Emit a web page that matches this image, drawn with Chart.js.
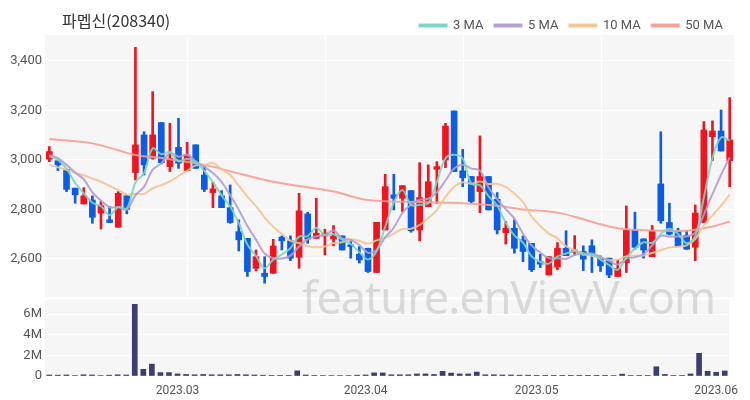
<!DOCTYPE html>
<html>
<head>
<meta charset="utf-8">
<script src="https://cdn.jsdelivr.net/npm/chart.js@4.4.0/dist/chart.umd.min.js"></script>
<style>
  body { margin: 0; background: #fff; width: 750px; height: 400px; overflow: hidden; position: relative; font-family: Roboto, "Noto Sans CJK KR", sans-serif; }
  #title { position: absolute; left: 62px; top: 8px; font-size: 16px; color: #333; font-family: "Noto Sans CJK KR", sans-serif; z-index: 2; }
  #priceBox { position: absolute; left: 0; top: 0; width: 750px; height: 298px; }
  #volBox { position: absolute; left: 0; top: 298px; width: 750px; height: 102px; }
  #mark { position: absolute; left: 302px; top: 274px; font-size: 45px; line-height: 1; letter-spacing: -1px; color: rgba(180,180,180,0.45); font-family: "Noto Sans", sans-serif; pointer-events: none; z-index: 3; white-space: nowrap; }
</style>
</head>
<body>
<div id="title">파멥신(208340)</div>
<div id="priceBox"><canvas id="price"></canvas></div>
<div id="volBox"><canvas id="vol"></canvas></div>
<div id="mark">feature.enVievV.com</div>

<script>
/* ===== DATA ===== */
// trading days per month (x categories)
const tradingDays = {
    '2023.02': [8, 9, 10, 13, 14, 15, 16, 17, 20, 21, 22, 23, 24, 27, 28],
    '2023.03': [2, 3, 6, 7, 8, 9, 10, 13, 14, 15, 16, 17, 20, 21, 22, 23, 24, 27, 28, 29, 30, 31],
    '2023.04': [3, 4, 5, 6, 7, 10, 11, 12, 13, 14, 17, 18, 19, 20, 21, 24, 25, 26, 27, 28],
    '2023.05': [2, 3, 4, 8, 9, 10, 11, 12, 15, 16, 17, 18, 19, 22, 23, 24, 25, 26, 29, 30, 31],
    '2023.06': [1, 2]
};
const monthTicks = ['2023.03', '2023.04', '2023.05', '2023.06'];

const open = [3003, 2997, 2962, 2886, 2822, 2838, 2785, 2758, 2728, 2855,
    2949, 3101, 3007, 3151, 2973, 3051, 2957, 3061, 2939, 2868,
    2855, 2807, 2710, 2683, 2562, 2542, 2542, 2688, 2673, 2607,
    2782, 2683, 2693, 2680, 2693, 2657, 2619, 2643, 2545, 2717,
    2859, 2845, 2876, 2717, 2811, 2962, 3000, 3198, 2956, 2933,
    2872, 2933, 2841, 2706, 2724, 2677, 2663, 2589, 2535, 2567,
    2643, 2626, 2630, 2653, 2603, 2603, 2529, 2585, 2717, 2681,
    2609, 2903, 2747, 2710, 2694, 2647, 2747, 3094, 3117, 2997];
const high = [3054, 2997, 2962, 2886, 2888, 2855, 2832, 2811, 2872, 2858,
    3455, 3114, 3276, 3151, 3148, 3168, 3071, 3061, 2976, 2910,
    2876, 2899, 2758, 2683, 2636, 2609, 2679, 2693, 2693, 2865,
    2789, 2845, 2720, 2735, 2693, 2670, 2650, 2643, 2748, 2942,
    2942, 2896, 2876, 2989, 2980, 2993, 3148, 3198, 3043, 2933,
    3097, 2933, 2868, 2751, 2758, 2693, 2663, 2619, 2609, 2666,
    2714, 2694, 2653, 2677, 2612, 2603, 2596, 2814, 2789, 2681,
    2735, 3114, 2825, 2724, 2714, 2818, 3155, 3158, 3202, 3252];
const low = [2993, 2957, 2872, 2825, 2822, 2744, 2721, 2747, 2728, 2782,
    2919, 2939, 3003, 2984, 2953, 2966, 2957, 2966, 2872, 2807,
    2807, 2744, 2632, 2529, 2552, 2502, 2542, 2636, 2593, 2562,
    2663, 2683, 2616, 2653, 2636, 2603, 2583, 2545, 2545, 2717,
    2798, 2791, 2708, 2673, 2811, 2825, 2969, 2953, 2892, 2825,
    2787, 2798, 2701, 2660, 2623, 2589, 2549, 2565, 2535, 2556,
    2613, 2616, 2553, 2545, 2549, 2524, 2529, 2545, 2639, 2603,
    2609, 2744, 2697, 2650, 2639, 2593, 2747, 2997, 3036, 2892];
const close = [3034, 2980, 2881, 2859, 2855, 2768, 2815, 2747, 2865, 2800,
    3061, 2980, 3101, 2989, 3007, 2987, 3020, 2966, 2881, 2883,
    2807, 2747, 2677, 2549, 2609, 2529, 2652, 2673, 2603, 2794,
    2680, 2704, 2704, 2693, 2636, 2650, 2596, 2549, 2748, 2892,
    2845, 2896, 2714, 2848, 2912, 2973, 3137, 2953, 2928, 2832,
    2933, 2798, 2717, 2724, 2643, 2630, 2556, 2579, 2609, 2643,
    2613, 2636, 2599, 2619, 2572, 2535, 2562, 2717, 2647, 2636,
    2713, 2754, 2700, 2650, 2639, 2785, 3121, 3117, 3036, 3081];

// moving averages
const ma3 = [3015, 3000, 2965, 2907, 2865, 2827, 2813, 2777, 2809, 2804,
    2909, 2947, 3047, 3023, 3032, 2994, 3005, 2991, 2956, 2910,
    2857, 2812, 2744, 2658, 2612, 2562, 2597, 2618, 2643, 2690,
    2692, 2726, 2696, 2700, 2678, 2660, 2627, 2598, 2631, 2730,
    2828, 2878, 2818, 2819, 2825, 2911, 3007, 3021, 3006, 2904,
    2898, 2854, 2816, 2746, 2695, 2666, 2610, 2588, 2581, 2610,
    2622, 2631, 2616, 2618, 2597, 2575, 2556, 2605, 2642, 2667,
    2665, 2701, 2722, 2701, 2663, 2691, 2848, 3008, 3091, 3078];
const ma5 = [3020, 3007, 2980, 2949, 2922, 2869, 2836, 2809, 2810, 2799,
    2858, 2891, 2961, 2986, 3028, 3013, 3021, 2994, 2972, 2947,
    2911, 2857, 2799, 2733, 2678, 2622, 2603, 2602, 2613, 2650,
    2680, 2691, 2697, 2715, 2683, 2677, 2656, 2625, 2636, 2687,
    2726, 2786, 2819, 2839, 2843, 2869, 2917, 2965, 2981, 2965,
    2957, 2889, 2842, 2801, 2763, 2702, 2654, 2626, 2603, 2603,
    2600, 2616, 2620, 2622, 2608, 2592, 2577, 2601, 2607, 2619,
    2655, 2693, 2690, 2691, 2691, 2706, 2779, 2862, 2940, 3010];
const ma10 = [2980, 2970, 2960, 2948, 2938, 2925, 2912, 2895, 2879, 2860,
    2863, 2863, 2885, 2898, 2913, 2935, 2956, 2978, 2979, 2988,
    2962, 2939, 2896, 2852, 2813, 2767, 2730, 2701, 2673, 2664,
    2651, 2647, 2650, 2664, 2667, 2679, 2673, 2661, 2675, 2685,
    2702, 2721, 2722, 2737, 2765, 2797, 2851, 2892, 2910, 2904,
    2913, 2903, 2903, 2891, 2864, 2830, 2771, 2734, 2702, 2683,
    2651, 2635, 2623, 2613, 2606, 2596, 2597, 2611, 2614, 2614,
    2624, 2635, 2646, 2649, 2655, 2680, 2736, 2776, 2815, 2860];
// 50 MA read at a few points only (gaps are spanned)
const ma50Points = { 0: 3085, 5: 3067, 10: 3020, 13: 3008, 18: 2980, 22: 2945, 26: 2912,
    33: 2872, 37: 2838, 44: 2829, 48: 2825, 52: 2815, 55: 2800, 59: 2787, 62: 2760,
    65: 2731, 67: 2720, 71: 2714, 74: 2714, 77: 2731, 79: 2751 };

// volume in millions of shares
const volumeM = [0.10, 0.08, 0.10, 0.05, 0.12, 0.10, 0.05, 0.08, 0.12, 0.10,
    6.95, 0.65, 1.15, 0.33, 0.33, 0.20, 0.15, 0.12, 0.15, 0.12,
    0.12, 0.12, 0.15, 0.12, 0.10, 0.08, 0.06, 0.06, 0.06, 0.50,
    0.10, 0.06, 0.05, 0.05, 0.05, 0.05, 0.08, 0.10, 0.30, 0.30,
    0.12, 0.12, 0.12, 0.20, 0.20, 0.15, 0.45, 0.28, 0.20, 0.20,
    0.38, 0.12, 0.12, 0.10, 0.10, 0.08, 0.08, 0.03, 0.03, 0.03,
    0.03, 0.03, 0.03, 0.03, 0.03, 0.03, 0.05, 0.18, 0.04, 0.04,
    0.04, 0.90, 0.15, 0.04, 0.04, 0.20, 2.20, 0.46, 0.36, 0.49];

const priceTicks = [2600, 2800, 3000, 3200, 3400];
const volumeTicks = [0, 2, 4, 6];

/* ===== BUILD ===== */
const labels = [];
const monthFirst = {};
Object.keys(tradingDays).forEach(m => {
    tradingDays[m].forEach((d, k) => {
        if (k === 0) monthFirst[labels.length] = m;
        labels.push(m + '.' + String(d).padStart(2, '0'));
    });
});

const UP = '#f5121c', DOWN = '#0a5de6';
const candleColors = close.map((c, i) => c >= open[i] ? UP : DOWN);
const bodies = open.map((o, i) => [o, close[i]]);
const wicks = low.map((l, i) => [l, high[i]]);
const ma50 = labels.map((_, i) => ma50Points[i] !== undefined ? ma50Points[i] : null);

const vGrid = [16, 32, 48, 64];

// gray plot background (+ optional vertical grid at given categories)
function plotBg(withVGrid) {
    return {
        id: 'plotBg',
        beforeDraw(chart) {
            const a = chart.chartArea, ctx = chart.ctx;
            ctx.save();
            ctx.fillStyle = '#f6f6f6';
            ctx.fillRect(a.left, a.top, a.right - a.left, a.bottom - a.top);
            if (withVGrid) {
                ctx.strokeStyle = '#ffffff';
                ctx.lineWidth = 1;
                vGrid.forEach(i => {
                    const x = Math.round(chart.scales.x.getPixelForValue(i)) + 0.5;
                    ctx.beginPath(); ctx.moveTo(x, a.top); ctx.lineTo(x, a.bottom); ctx.stroke();
                });
            }
            ctx.restore();
        }
    };
}

// fix legend height so the plot starts where the reference does
const legendFit = {
    id: 'legendFit',
    beforeInit(chart) {
        const fit = chart.legend.fit;
        chart.legend.fit = function () {
            fit.bind(chart.legend)();
            this.height = 27;
        };
    }
};

// fixed axis width, no extra room for edge labels
function fixY(s) {
    s.width = 45;
    s.paddingTop = 0;
    s.paddingBottom = 0;
}

function maLine(label, data, color) {
    return {
        type: 'line', label, data,
        borderColor: color, backgroundColor: color,
        borderWidth: 2, pointRadius: 0, tension: 0.35,
        spanGaps: true, order: 0
    };
}

new Chart(document.getElementById('price'), {
    data: {
        labels,
        datasets: [
            maLine('3 MA', ma3, 'rgba(120,214,196,0.9)'),
            maLine('5 MA', ma5, 'rgba(178,156,210,0.9)'),
            maLine('10 MA', ma10, 'rgba(244,196,148,0.9)'),
            maLine('50 MA', ma50, 'rgba(246,160,146,0.9)'),
            { type: 'bar', label: 'body', data: bodies, backgroundColor: candleColors,
              barThickness: 6, grouped: false, order: 1 },
            { type: 'bar', label: 'wick', data: wicks, backgroundColor: candleColors,
              barThickness: 2, grouped: false, order: 2 }
        ]
    },
    options: {
        responsive: true,
        maintainAspectRatio: false,
        animation: false,
        layout: { padding: { top: 8, right: 16, left: 0, bottom: 1 } },
        plugins: {
            legend: {
                position: 'top', align: 'end',
                labels: {
                    filter: item => item.text.indexOf('MA') > 0,
                    boxWidth: 27, boxHeight: 2, padding: 11,
                    color: '#555', font: { size: 13, family: 'Roboto' }
                }
            },
            tooltip: { enabled: false }
        },
        scales: {
            x: { display: false },
            y: {
                min: 2446, max: 3505,
                afterFit: fixY,
                afterBuildTicks: s => { s.ticks = priceTicks.map(v => ({ value: v })); },
                ticks: { callback: v => v.toLocaleString('en-US'), color: '#555',
                         font: { size: 13, family: 'Roboto' }, padding: 3 },
                grid: { color: '#ffffff', drawTicks: false },
                border: { display: false }
            }
        }
    },
    plugins: [plotBg(true), legendFit]
});

new Chart(document.getElementById('vol'), {
    type: 'bar',
    data: {
        labels,
        datasets: [{ label: 'Volume', data: volumeM, backgroundColor: '#3c3f6c', barThickness: 5 }]
    },
    options: {
        responsive: true,
        maintainAspectRatio: false,
        animation: false,
        layout: { padding: { top: 2, right: 21, left: 0, bottom: 0 } },
        plugins: { legend: { display: false }, tooltip: { enabled: false } },
        scales: {
            x: {
                grid: { display: false },
                border: { display: false },
                ticks: {
                    autoSkip: false, maxRotation: 0, padding: 0,
                    color: '#555', font: { size: 12, family: 'Roboto' },
                    callback: (v, i) => monthFirst[i] && monthTicks.includes(monthFirst[i]) ? monthFirst[i] : null
                },
                afterFit: s => { s.height = 24; }
            },
            y: {
                min: 0, max: 7.37,
                afterFit: fixY,
                afterBuildTicks: s => { s.ticks = volumeTicks.map(v => ({ value: v })); },
                ticks: { callback: v => v === 0 ? '0' : v + 'M', color: '#555',
                         font: { size: 13, family: 'Roboto' }, padding: 3 },
                grid: { color: '#ffffff', drawTicks: false },
                border: { display: false }
            }
        }
    },
    plugins: [plotBg(false)]
});
</script>
</body>
</html>
